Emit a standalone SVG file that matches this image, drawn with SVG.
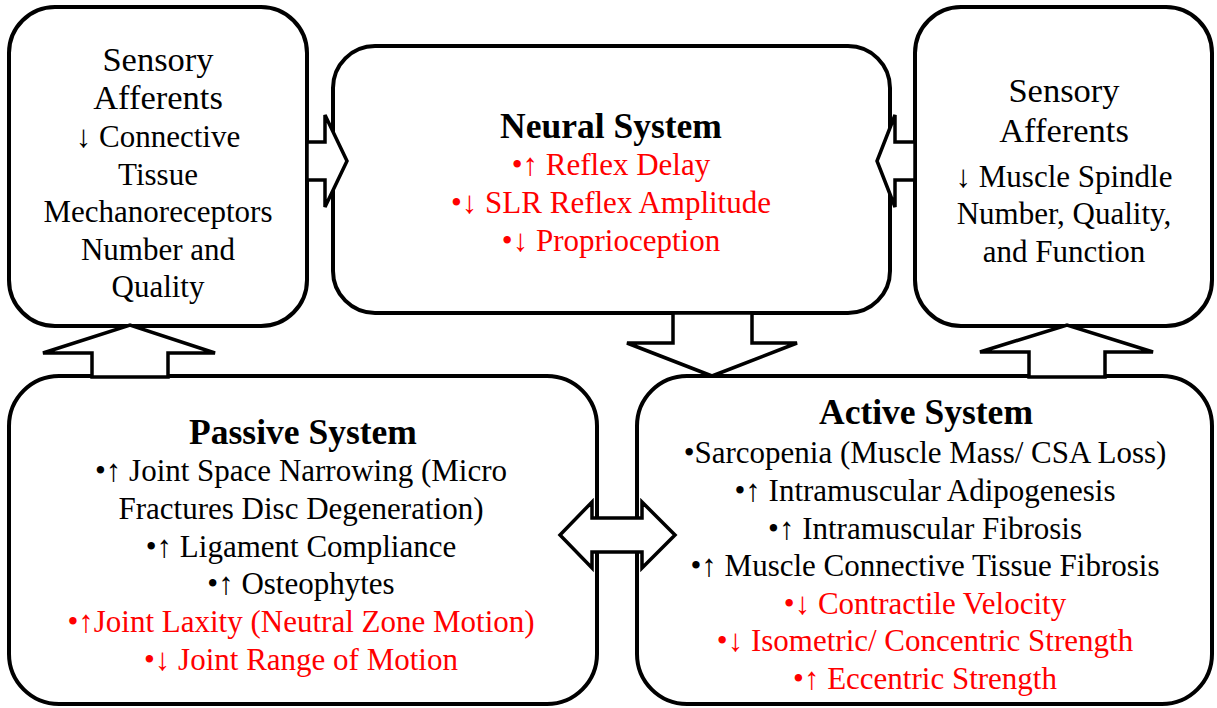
<svg xmlns="http://www.w3.org/2000/svg" width="1217" height="708" viewBox="0 0 1217 708">
<style>
.box{fill:#fff;stroke:#000;stroke-width:4}
.arr{fill:#fff;stroke:#000;stroke-width:3.5;stroke-linejoin:miter}
text{font-family:"Liberation Serif","DejaVu Serif",serif;font-size:31px;text-anchor:middle;fill:#000}
.t{font-weight:bold;font-size:35.5px}
.h{font-size:34.5px}
.r{fill:#ff0000}
</style>
<g id="sensory-left">
<rect class="box" x="9" y="7" width="298" height="319" rx="46"/>
<text class="h" x="158" y="71">Sensory</text>
<text class="h" x="158" y="109">Afferents</text>
<text x="158" y="147">↓ Connective</text>
<text x="158" y="185">Tissue</text>
<text x="158" y="222">Mechanoreceptors</text>
<text x="158" y="260">Number and</text>
<text x="158" y="297">Quality</text>
</g>
<g id="neural">
<rect class="box" x="333" y="46" width="557" height="267" rx="42"/>
<text class="t" x="611" y="138">Neural System</text>
<text class="r" x="611" y="175">•↑ Reflex Delay</text>
<text class="r" x="611" y="213">•↓ SLR Reflex Amplitude</text>
<text class="r" x="611" y="251">•↓ Proprioception</text>
</g>
<g id="sensory-right">
<rect class="box" x="915" y="7" width="297" height="319" rx="46"/>
<text class="h" x="1064" y="102">Sensory</text>
<text class="h" x="1064" y="142">Afferents</text>
<text x="1064" y="187">↓ Muscle Spindle</text>
<text x="1064" y="224">Number, Quality,</text>
<text x="1064" y="262">and Function</text>
</g>
<g id="passive">
<rect class="box" x="9" y="376" width="588" height="328" rx="50"/>
<text class="t" x="303" y="444">Passive System</text>
<text x="301" y="481">•↑ Joint Space Narrowing (Micro</text>
<text x="301" y="519">Fractures Disc Degeneration)</text>
<text x="301" y="557">•↑ Ligament Compliance</text>
<text x="301" y="594">•↑ Osteophytes</text>
<text class="r" x="301" y="632">•↑Joint Laxity (Neutral Zone Motion)</text>
<text class="r" x="301" y="670">•↓ Joint Range of Motion</text>
</g>
<g id="active">
<rect class="box" x="637" y="376" width="575" height="328" rx="50"/>
<text class="t" x="926" y="424">Active System</text>
<text x="925" y="463">•Sarcopenia (Muscle Mass/ CSA Loss)</text>
<text x="925" y="501">•↑ Intramuscular Adipogenesis</text>
<text x="925" y="539">•↑ Intramuscular Fibrosis</text>
<text x="925" y="576">•↑ Muscle Connective Tissue Fibrosis</text>
<text class="r" x="925" y="614">•↓ Contractile Velocity</text>
<text class="r" x="925" y="651">•↓ Isometric/ Concentric Strength</text>
<text class="r" x="925" y="689">•↑ Eccentric Strength</text>
</g>
<g id="connectors">
<polygon class="arr" points="307,142 325,142 325,115 347,161 325,207 325,180 307,180"/>
<polygon class="arr" points="915,142 895,142 895,115 877,161 895,207 895,180 915,180"/>
<polygon class="arr" points="673,313 752,313 752,343 797,343 712,376 627,343 673,343"/>
<polygon class="arr" points="92,377 92,353 43,353 130,325 215,353 168,353 168,377"/>
<polygon class="arr" points="1029,377 1029,352 980,352 1067,325 1153,352 1105,352 1105,377"/>
<polygon class="arr" points="560,535 592,502 592,518 642,518 642,502 675,535 642,568 642,552 592,552 592,568"/>
</g>
</svg>
